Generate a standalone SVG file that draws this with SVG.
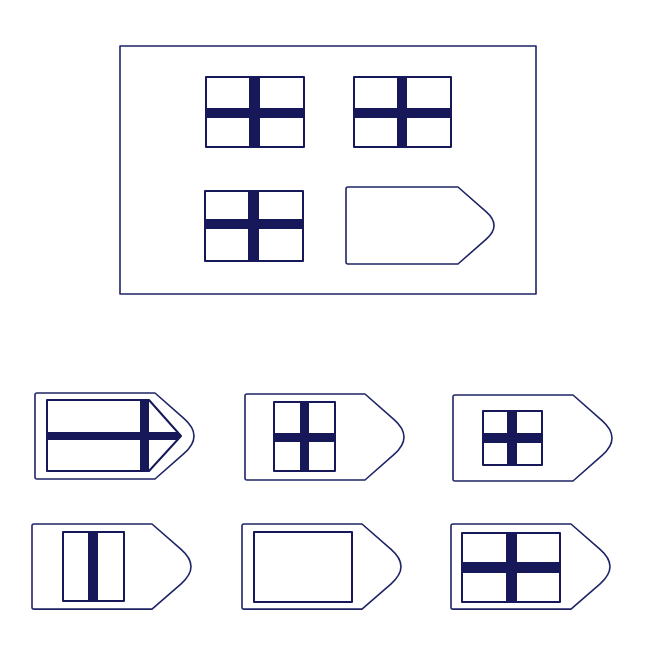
<svg xmlns="http://www.w3.org/2000/svg" width="654" height="650" viewBox="0 0 654 650">
<style>
.ln{fill:#fff;stroke:#1e2466;stroke-width:1.6;stroke-linejoin:round}
.fl{fill:#fff;stroke:#16185a;stroke-width:2;stroke-linejoin:round}
.bar{fill:#16185a;stroke:none}
</style>
<defs>
<path id="tag" d="M2,0 H120 L149.1,25.6 Q168.9,43 149.1,60.4 L120,86 H2 Q0,86 0,84 V2 Q0,0 2,0 Z"/>
</defs>
<rect width="654" height="650" fill="#fff"/>
<g id="frame"><rect class="ln" x="120" y="46" width="416" height="248"/></g>
<g id="flag1"><rect class="fl" x="206" y="77" width="98" height="70"/><rect class="bar" x="249" y="77" width="11" height="70"/><rect class="bar" x="206" y="108" width="98" height="10"/></g>
<g id="flag2"><rect class="fl" x="354" y="77" width="97" height="70"/><rect class="bar" x="397" y="77" width="10" height="70"/><rect class="bar" x="354" y="108" width="97" height="10"/></g>
<g id="flag3"><rect class="fl" x="205" y="191" width="98" height="70"/><rect class="bar" x="248" y="191" width="11" height="70"/><rect class="bar" x="205" y="219" width="98" height="10"/></g>
<g id="question"><path class="ln" d="M348,187 H458 L486.3,211.9 Q501.75,225.5 486.3,239.1 L458,264 H348 Q346,264 346,262 V189 Q346,187 348,187 Z"/></g>
<g id="optA"><use href="#tag" class="ln" transform="translate(35,393)"/>
<path class="fl" d="M47,400 H149 L181,436 L149,471 H47 Z"/>
<rect class="bar" x="140" y="400" width="9" height="71"/>
<path class="bar" d="M47,432 H177.4 L181,436 L177.4,440 H47 Z"/></g>
<g id="optB"><use href="#tag" class="ln" transform="translate(245,394)"/>
<rect class="fl" x="274" y="402" width="61" height="69"/><rect class="bar" x="300" y="402" width="9" height="69"/><rect class="bar" x="274" y="433" width="61" height="9"/></g>
<g id="optC"><use href="#tag" class="ln" transform="translate(453,395)"/>
<rect class="fl" x="483" y="411" width="59" height="54"/><rect class="bar" x="507" y="411" width="10" height="54"/><rect class="bar" x="483" y="433" width="59" height="10"/></g>
<g id="optD"><use href="#tag" class="ln" transform="translate(32,524) scale(1,0.99)"/>
<rect class="fl" x="63" y="532" width="61" height="69"/><rect class="bar" x="88" y="532" width="10" height="69"/></g>
<g id="optE"><use href="#tag" class="ln" transform="translate(242,524) scale(1,0.99)"/>
<rect class="fl" x="254" y="532" width="98" height="70"/></g>
<g id="optF"><use href="#tag" class="ln" transform="translate(451,524) scale(1,0.99)"/>
<rect class="fl" x="462" y="533" width="98" height="69"/><rect class="bar" x="506" y="533" width="11" height="69"/><rect class="bar" x="462" y="562" width="98" height="11"/></g>
</svg>
